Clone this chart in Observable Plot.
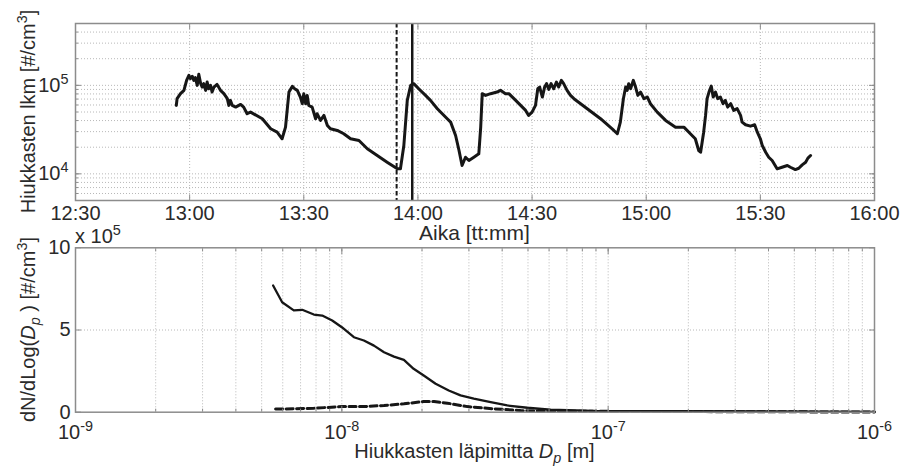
<!DOCTYPE html>
<html><head><meta charset="utf-8">
<script src="https://cdn.jsdelivr.net/npm/d3@7"></script>
<script src="https://cdn.jsdelivr.net/npm/@observablehq/plot@0.6"></script>
<style>
body{margin:0;background:#fff;}
#wrap{position:relative;width:902px;height:473px;font-family:"Liberation Sans",Arial,Helvetica,sans-serif;}
#wrap svg{position:absolute;left:0;top:0;overflow:visible;}
</style></head><body><div id="wrap"></div>
<script>
// ---------- top panel: particle number concentration vs time (minutes after midnight) ----------
const timeMin = [776.5,776.7,777.6,778.5,779.2,779.8,780.2,780.7,781.1,781.5,782.0,782.4,782.9,783.3,783.7,784.2,784.6,785.0,785.5,785.9,786.4,787.2,788.1,789.0,789.9,790.3,790.7,791.2,792.1,793.4,794.2,795.1,796.0,799.1,801.3,803.0,804.3,805.2,806.1,807.0,807.6,808.3,809.1,809.6,810.0,810.5,810.9,811.3,812.2,813.1,813.5,814.4,815.3,816.2,817.0,818.8,820.5,822.3,824.5,826.7,829.3,831.9,834.6,835.4,836.3,837.2,838.1,838.9,840.2,842.0,843.3,845.1,846.4,847.7,848.6,849.9,850.8,851.6,852.5,853.4,854.7,856.0,856.5,856.9,857.8,859.1,860.8,861.7,863.0,863.9,865.7,867.0,868.3,869.1,870.0,870.9,871.5,872.0,872.7,873.3,873.8,874.4,875.0,875.7,876.4,877.0,877.7,878.3,879.2,880.1,881.0,884.5,888.0,891.5,892.4,893.2,894.0,894.6,895.0,895.4,895.9,896.6,897.2,897.8,898.5,899.4,900.3,901.1,902.9,905.1,907.7,909.9,911.6,912.9,913.8,914.3,914.7,915.1,915.6,916.0,916.5,917.1,917.6,918.2,918.8,919.5,920.2,920.8,921.4,922.2,923.0,923.9,924.8,925.2,926.1,927.4,928.5,929.2,930.0,930.5,931.4,932.2,933.1,934.4,935.7,937.1,937.9,939.2,940.1,941.0,941.9,942.5,943.2];
const countValues = [59400,70700,80500,87800,113900,129800,119100,126500,113900,122200,100000,133200,104500,95700,104500,87800,109000,91700,100000,84000,95700,102600,87800,80500,70700,59400,67600,59400,56800,60900,56800,47800,49850,41970,32330,29590,24910,33710,84000,97400,91700,87800,73700,62070,80500,62070,77000,59400,56800,41970,47800,40150,45730,35240,32330,30930,28380,24910,23830,19200,16120,13540,11390,11390,20920,67600,100000,104500,91700,77000,67600,54500,47800,41970,38410,27150,18360,12420,15420,14150,15420,16850,33710,80500,77000,80500,84000,87800,80500,80500,67600,59400,52100,45730,49850,59400,91700,95700,73700,95700,104500,90100,104500,91700,109000,95700,113900,104500,87800,77000,70700,54500,41970,30930,28380,38410,70700,95700,87800,104500,91700,113900,95700,77000,84000,70700,73700,62070,49850,40150,33710,33710,28380,24910,18360,17570,22800,29590,45730,70700,84000,98200,73700,84000,70700,73700,62070,67600,56800,62070,52100,54500,45730,38410,35880,34600,35880,29590,24910,20920,17570,15420,14150,11390,11880,12420,11880,11190,11570,12650,13540,15060,16120];
const markerDashed = "13:54:24";
const markerSolid = "13:58:30";
const timeTicks = ["12:30","13:00","13:30","14:00","14:30","15:00","15:30","16:00"];
const countDomain = [5000, 500000];
const countTicks = [1e4, 1e5];

// ---------- bottom panel: size distributions (values in units of 10^5) ----------
const diamSolid = [5.52e-9,5.97e-9,6.6e-9,7.1e-9,7.85e-9,8.44e-9,9.2e-9,1.0e-8,1.11e-8,1.21e-8,1.32e-8,1.44e-8,1.57e-8,1.71e-8,1.86e-8,2.03e-8,2.25e-8,2.52e-8,2.79e-8,3.13e-8,3.62e-8,4.18e-8,4.97e-8,6.08e-8,8.8e-8,1e-6];
const distSolid = [7.71,6.69,6.19,6.23,5.94,5.88,5.58,5.17,4.56,4.36,4.05,3.65,3.38,3.18,2.64,2.23,1.73,1.32,1.02,0.82,0.61,0.41,0.27,0.15,0.08,0.02];
const diamDashed = [5.64e-9,6.6e-9,7.85e-9,1.0e-8,1.21e-8,1.44e-8,1.71e-8,2.03e-8,2.22e-8,2.49e-8,2.96e-8,3.7e-8,4.69e-8,5.73e-8,1e-6];
const distDashed = [0.19,0.21,0.24,0.34,0.34,0.41,0.51,0.65,0.65,0.55,0.34,0.21,0.10,0.06,0.01];
const distScaleExp = 5;
const distTicks = [0, 5, 10];
const diamTicks = [1e-9, 1e-8, 1e-7, 1e-6];

// ---------- helpers ----------
const W = 902, H = 473;
const FONT = "Liberation Sans, Arial, Helvetica, sans-serif";
const base = Date.UTC(2000,0,1);
const hms = s => { const p = s.split(":").map(Number); return p[0]*60 + p[1] + (p[2]||0)/60; };
const toDate = m => new Date(base + m*60000);
const topData = timeMin.map((m,i) => ({t: toDate(m), n: countValues[i]}));
const tickDates = timeTicks.map(s => toDate(hms(s)));
const minors = (lo, hi) => { const o=[]; for (let e=-10;e<=6;e++) for (let k=1;k<=9;k++){ const v=+(k*10**e).toPrecision(3); if (v>lo*1.0001 && v<hi*0.9999) o.push(v);} return o; };
const countGrid = minors(countDomain[0], countDomain[1]);
const diamGrid = minors(diamTicks[0], diamTicks[diamTicks.length-1]);
const gridStyle = {stroke:"#b8b8b8", strokeWidth:1, strokeDasharray:"1,2"};
const frameColor = "#8c8c8c";
const ink = "#161616";

function supify(svg){
  d3.select(svg).selectAll("text").each(function(){
    const m = /^10\^(.+)$/.exec(this.textContent);
    if (m){ const s=d3.select(this); s.text(null); s.append("tspan").text("10"); s.append("tspan").attr("dy","-0.55em").attr("font-size","0.72em").text(m[1]); }
  });
}

const common = {width:W, height:H, marginLeft:75, marginRight:28,
  style:{fontFamily:FONT, fontSize:"20px", background:"transparent", color:"#2a2a2a", overflow:"visible"}};

// ---------- top plot ----------
const topPlot = Plot.plot({...common, marginTop:23, marginBottom:H-200,
  x:{type:"utc", domain:[tickDates[0], tickDates[tickDates.length-1]]},
  y:{type:"log", domain:countDomain},
  marks:[
    Plot.ruleX(tickDates.slice(1,-1), gridStyle),
    Plot.ruleY(countGrid, gridStyle),
    Plot.line(topData, {x:"t", y:"n", stroke:ink, strokeWidth:3, strokeLinejoin:"round"}),
    Plot.ruleX([toDate(hms(markerDashed))], {stroke:ink, strokeWidth:2, strokeDasharray:"4.5,2.5"}),
    Plot.ruleX([toDate(hms(markerSolid))], {stroke:ink, strokeWidth:2.5}),
    Plot.frame({stroke:frameColor, strokeWidth:1.5}),
    Plot.axisX({anchor:"bottom", ticks:tickDates, tickSize:-5, tickFormat:()=>"", label:null, stroke:frameColor}),
    Plot.axisX({anchor:"top", ticks:tickDates, tickSize:-5, tickFormat:()=>"", label:null, stroke:frameColor}),
    Plot.axisY({anchor:"left", ticks:countGrid, tickSize:-3, tickFormat:()=>"", label:null, stroke:frameColor}),
    Plot.axisY({anchor:"right", ticks:countGrid, tickSize:-3, tickFormat:()=>"", label:null, stroke:frameColor}),
    Plot.axisY({anchor:"left", ticks:countTicks, tickSize:-6, tickFormat:()=>"", label:null, stroke:frameColor}),
    Plot.axisY({anchor:"right", ticks:countTicks, tickSize:-6, tickFormat:()=>"", label:null, stroke:frameColor}),
    Plot.axisX({anchor:"bottom", ticks:tickDates, tickSize:0, tickPadding:5, tickFormat:d3.utcFormat("%H:%M"), label:null}),
    Plot.axisY({anchor:"left", ticks:countTicks, tickSize:0, tickPadding:7, tickFormat:d=>"10^"+Math.round(Math.log10(d)), label:null})
  ]});

// ---------- bottom plot ----------
const distS = diamSolid.map((d,i)=>({d, v:distSolid[i]}));
const distD = diamDashed.map((d,i)=>({d, v:distDashed[i]}));
const bottomPlot = Plot.plot({...common, marginTop:247.3, marginBottom:H-411.7,
  x:{type:"log", domain:[diamTicks[0], diamTicks[diamTicks.length-1]]},
  y:{domain:[distTicks[0], distTicks[distTicks.length-1]]},
  marks:[
    Plot.ruleX(diamGrid, gridStyle),
    Plot.ruleY(distTicks.slice(1,-1), gridStyle),
    Plot.line(distD, {x:"d", y:"v", stroke:ink, strokeWidth:3, strokeDasharray:"7,3.5"}),
    Plot.line(distS, {x:"d", y:"v", stroke:ink, strokeWidth:2.3}),
    Plot.frame({stroke:frameColor, strokeWidth:1.5}),
    Plot.axisX({anchor:"bottom", ticks:diamGrid, tickSize:-3, tickFormat:()=>"", label:null, stroke:frameColor}),
    Plot.axisX({anchor:"top", ticks:diamGrid, tickSize:-3, tickFormat:()=>"", label:null, stroke:frameColor}),
    Plot.axisX({anchor:"bottom", ticks:diamTicks, tickSize:-6, tickFormat:()=>"", label:null, stroke:frameColor}),
    Plot.axisX({anchor:"top", ticks:diamTicks, tickSize:-6, tickFormat:()=>"", label:null, stroke:frameColor}),
    Plot.axisY({anchor:"left", ticks:distTicks, tickSize:-6, tickFormat:()=>"", label:null, stroke:frameColor}),
    Plot.axisY({anchor:"right", ticks:distTicks, tickSize:-6, tickFormat:()=>"", label:null, stroke:frameColor}),
    Plot.axisX({anchor:"bottom", ticks:diamTicks, tickSize:0, tickPadding:13, tickFormat:d=>"10^"+Math.round(Math.log10(d)), label:null}),
    Plot.axisY({anchor:"left", ticks:distTicks, tickSize:0, tickPadding:5, tickFormat:d=>String(d), label:null})
  ]});

supify(topPlot); supify(bottomPlot);

// ---------- titles ----------
function addText(svg, x, y, parts, rotate){
  const t = d3.select(svg).append("text")
    .attr("transform", `translate(${x},${y})` + (rotate ? ` rotate(${rotate})` : ""))
    .attr("text-anchor", "middle")
    .attr("font-size", 20).attr("fill", "#2a2a2a").attr("font-family", FONT);
  for (const p of parts){
    const s = t.append("tspan").text(p.t);
    if (p.italic) s.attr("font-style","italic");
    if (p.dy) s.attr("dy", p.dy);
    if (p.size) s.attr("font-size", p.size);
  }
  return t;
}
addText(topPlot, 474.5, 240, [{t:"Aika [tt:mm]"}]).attr("font-size", 21);
addText(topPlot, 35, 111.5, [{t:"Hiukkasten lkm [#/cm"},{t:"3", dy:"-0.55em", size:"0.72em"},{t:"]", dy:"0.4em"}], -90);
addText(bottomPlot, 474.5, 458, [{t:"Hiukkasten läpimitta "},{t:"D", italic:true},{t:"p", italic:true, dy:"0.35em", size:"0.72em"},{t:" [m]", dy:"-0.25em"}]);
addText(bottomPlot, 35, 329.5, [{t:"dN/dLog("},{t:"D", italic:true},{t:"p", italic:true, dy:"0.35em", size:"0.72em"},{t:" ) [#/cm", dy:"-0.25em"},{t:"3", dy:"-0.55em", size:"0.72em"},{t:"]", dy:"0.4em"}], -90);
addText(bottomPlot, 75, 243, [{t:"x 10"},{t:String(distScaleExp), dy:"-0.55em", size:"0.72em"}]).attr("text-anchor","start");

document.getElementById("wrap").append(topPlot, bottomPlot);
</script></body></html>
